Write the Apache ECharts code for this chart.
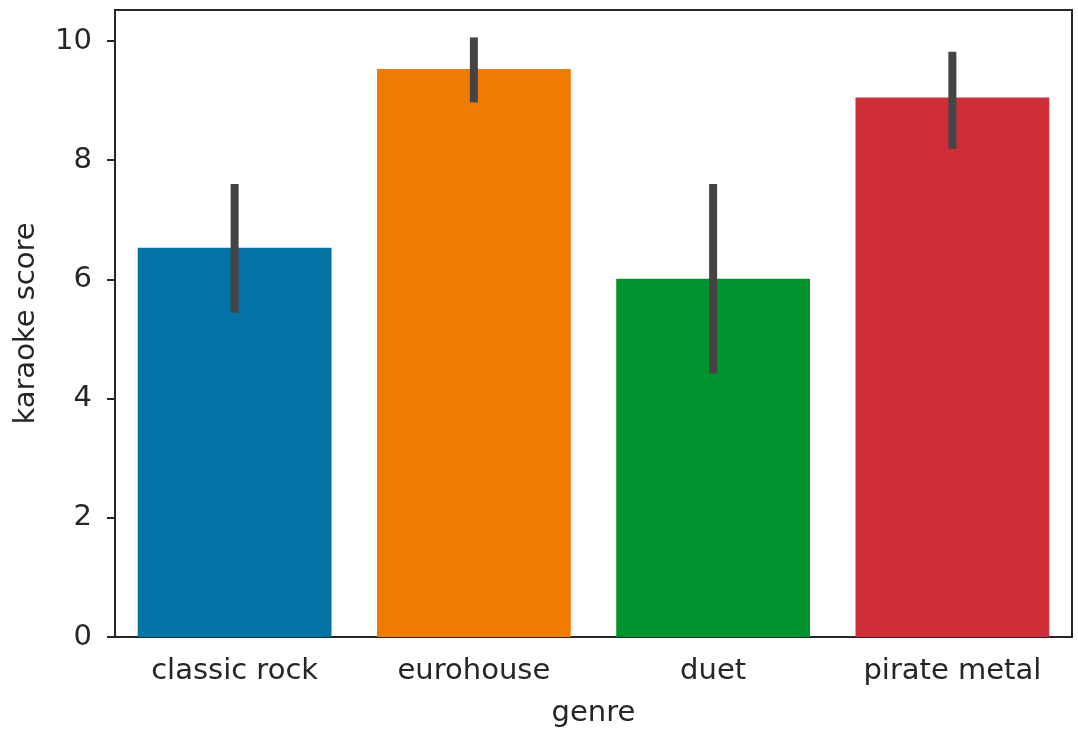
<!DOCTYPE html>
<html>
<head>
<meta charset="utf-8">
<script src="https://cdn.jsdelivr.net/npm/echarts@6/dist/echarts.min.js"></script>
<style>
  html, body { margin: 0; padding: 0; background: #fff; }
  #main { width: 1078px; height: 733px; }
</style>
</head>
<body>
<div id="main"></div>
<script>
  // data
  const genres = ['classic rock', 'eurohouse', 'duet', 'pirate metal'];
  const scores = [6.53, 9.53, 6.01, 9.05];
  const errLow = [5.44, 8.97, 4.42, 8.19];
  const errHigh = [7.60, 10.06, 7.60, 9.82];
  const barColors = ['#0173a4', '#ef7b00', '#01932e', '#cf2e38'];
  const yTicks = [0, 2, 4, 6, 8, 10];

  const font = 'DejaVu Sans';
  const dark = '#262626';

  let myChart = echarts.init(document.getElementById('main'));

  myChart.setOption({
    animation: false,
    textStyle: { fontFamily: font },
    grid: {
      left: 115,
      right: 6,
      top: 10,
      bottom: 95,
      show: true,
      borderColor: dark,
      borderWidth: 2,
      backgroundColor: 'transparent'
    },
    xAxis: {
      type: 'category',
      data: genres,
      name: 'genre',
      nameLocation: 'middle',
      nameGap: 62,
      nameTextStyle: { color: dark, fontSize: 29, fontFamily: font },
      axisLine: { lineStyle: { color: dark, width: 2 } },
      axisTick: { alignWithLabel: true, length: 8, lineStyle: { color: dark, width: 2 } },
      axisLabel: { color: dark, fontSize: 29, margin: 20, fontFamily: font }
    },
    yAxis: {
      type: 'value',
      min: 0,
      max: 10.52,
      interval: 2,
      name: 'karaoke score',
      nameLocation: 'middle',
      nameGap: 74,
      nameTextStyle: { color: dark, fontSize: 29, fontFamily: font },
      splitLine: { show: false },
      axisLine: { show: true, lineStyle: { color: dark, width: 2 } },
      axisTick: { show: true, length: 8, customValues: yTicks, lineStyle: { color: dark, width: 2 } },
      axisLabel: { color: dark, fontSize: 29, margin: 23, customValues: yTicks, fontFamily: font }
    },
    series: [
      {
        type: 'bar',
        barWidth: '81%',
        data: scores.map((v, i) => ({ value: v, itemStyle: { color: barColors[i] } }))
      },
      {
        type: 'custom',
        z: 10,
        data: genres.map((g, i) => [i, errLow[i], errHigh[i]]),
        renderItem: function (params, api) {
          const lo = api.coord([api.value(0), api.value(1)]);
          const hi = api.coord([api.value(0), api.value(2)]);
          return {
            type: 'line',
            shape: { x1: lo[0], y1: lo[1], x2: hi[0], y2: hi[1] },
            style: { stroke: '#444444', lineWidth: 8 }
          };
        }
      }
    ]
  });
</script>
</body>
</html>
